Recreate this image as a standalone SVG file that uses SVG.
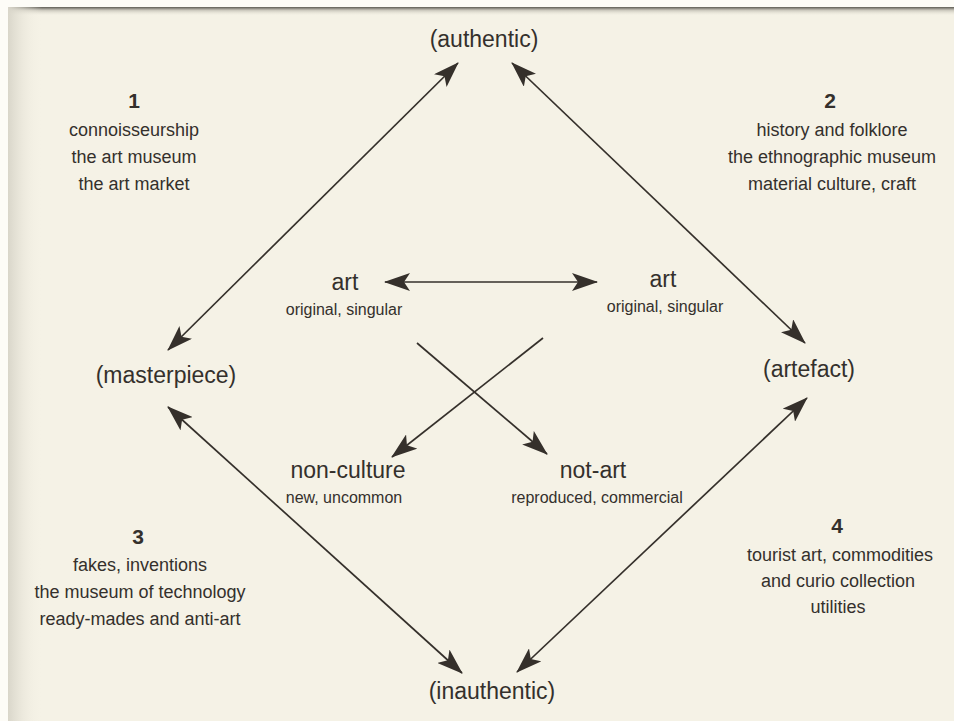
<svg xmlns="http://www.w3.org/2000/svg" width="954" height="721" viewBox="0 0 954 721">
  <defs>
    <linearGradient id="topShade" x1="0" y1="0" x2="0" y2="1">
      <stop offset="0" stop-color="#5e5c55"/>
      <stop offset="0.35" stop-color="#c9c6bb"/>
      <stop offset="1" stop-color="#f5f2e6" stop-opacity="0"/>
    </linearGradient>
    <linearGradient id="leftShade" x1="0" y1="0" x2="1" y2="0">
      <stop offset="0" stop-color="#d9d6ca"/>
      <stop offset="1" stop-color="#f5f2e6" stop-opacity="0"/>
    </linearGradient>
    <marker id="ah" viewBox="0 0 26 18" refX="25" refY="9" markerWidth="26" markerHeight="18" markerUnits="userSpaceOnUse" orient="auto-start-reverse">
      <path d="M0,0 L26,9 L0,18 L6,9 z" fill="#35302b"/>
    </marker>
  </defs>
  <style>
    text { font-family: "Liberation Sans", Arial, sans-serif; fill: #34302c; text-anchor: middle; }
    .big { font-size: 23px; }
    .small { font-size: 16px; }
    .num { font-size: 21px; font-weight: bold; }
    .desc { font-size: 18px; }
    .conn line { stroke: #35302b; stroke-width: 1.7; fill: none; }
  </style>

  <rect x="0" y="0" width="954" height="721" fill="#fdfcf7"/>
  <rect x="8" y="7" width="946" height="714" fill="#f5f2e6"/>
  <rect x="8" y="7" width="946" height="9" fill="url(#topShade)"/>
  <rect x="8" y="7" width="34" height="714" fill="url(#leftShade)"/>

  <g id="connectors" class="conn">
    <line x1="458" y1="63" x2="168" y2="350" marker-start="url(#ah)" marker-end="url(#ah)"/>
    <line x1="512" y1="63" x2="805" y2="343" marker-start="url(#ah)" marker-end="url(#ah)"/>
    <line x1="168" y1="407" x2="462" y2="673" marker-start="url(#ah)" marker-end="url(#ah)"/>
    <line x1="807" y1="398" x2="517" y2="672" marker-start="url(#ah)" marker-end="url(#ah)"/>
    <line x1="385" y1="282" x2="597" y2="282" marker-start="url(#ah)" marker-end="url(#ah)"/>
    <line x1="417" y1="343" x2="547" y2="454" marker-end="url(#ah)"/>
    <line x1="543" y1="338" x2="392" y2="457" marker-end="url(#ah)"/>
  </g>

  <g id="authentic"><text class="big" x="484" y="47">(authentic)</text></g>
  <g id="masterpiece"><text class="big" x="166" y="383">(masterpiece)</text></g>
  <g id="artefact"><text class="big" x="809" y="377">(artefact)</text></g>
  <g id="inauthentic"><text class="big" x="492" y="699">(inauthentic)</text></g>

  <g id="art-left">
    <text class="big" x="345" y="290">art</text>
    <text class="small" x="344" y="315">original, singular</text>
  </g>
  <g id="art-right">
    <text class="big" x="663" y="287">art</text>
    <text class="small" x="665" y="312">original, singular</text>
  </g>
  <g id="non-culture">
    <text class="big" x="348" y="478">non-culture</text>
    <text class="small" x="344" y="503">new, uncommon</text>
  </g>
  <g id="not-art">
    <text class="big" x="593" y="478">not-art</text>
    <text class="small" x="597" y="503">reproduced, commercial</text>
  </g>

  <g id="quadrant-1">
    <text class="num" x="134" y="108">1</text>
    <text class="desc" x="134" y="136">connoisseurship</text>
    <text class="desc" x="134" y="163">the art museum</text>
    <text class="desc" x="134" y="190">the art market</text>
  </g>
  <g id="quadrant-2">
    <text class="num" x="830" y="108">2</text>
    <text class="desc" x="832" y="136">history and folklore</text>
    <text class="desc" x="832" y="163">the ethnographic museum</text>
    <text class="desc" x="832" y="190">material culture, craft</text>
  </g>
  <g id="quadrant-3">
    <text class="num" x="138" y="544">3</text>
    <text class="desc" x="140" y="571">fakes, inventions</text>
    <text class="desc" x="140" y="598">the museum of technology</text>
    <text class="desc" x="140" y="625">ready-mades and anti-art</text>
  </g>
  <g id="quadrant-4">
    <text class="num" x="837" y="533">4</text>
    <text class="desc" x="840" y="561">tourist art, commodities</text>
    <text class="desc" x="838" y="587">and curio collection</text>
    <text class="desc" x="838" y="613">utilities</text>
  </g>
</svg>
